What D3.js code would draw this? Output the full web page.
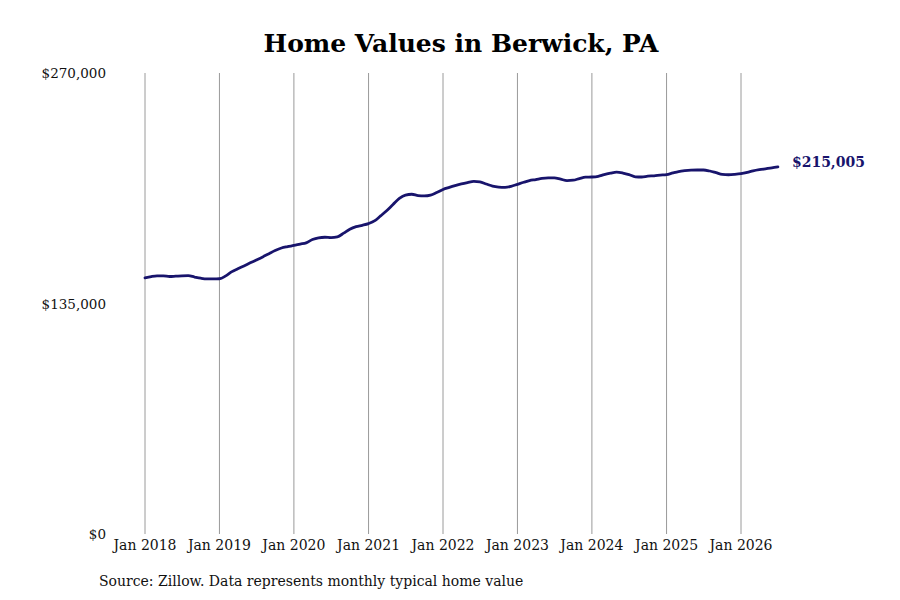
<!DOCTYPE html>
<meta charset="utf-8">
<head>
<style>
  body { margin: 0; background: #fff; }
  text { font-family: "DejaVu Serif", serif; }
</style>
</head>
<script src="https://d3js.org/d3.v7.min.js"></script>
<body>
  <div id="chart"></div>
</body>
<script>

    // monthly typical home value, Jan 2018 .. Jul 2026
    var startMonth = new Date(2018, 0, 1);
    var homeValues = [
      150000, 150800, 151200, 151200, 150800, 151000, 151200, 151300, 150500, 149800, 149400, 149400, // 2018
      149500, 151200, 153500, 155300, 157000, 158800, 160500, 162300, 164200, 166000, 167500, 168300, // 2019
      169000, 169800, 170500, 172500, 173500, 173800, 173600, 174000, 176200, 178500, 180000, 180800, // 2020
      181800, 183500, 186300, 189500, 193000, 196500, 198500, 199000, 198200, 198000, 198500, 200000, // 2021
      201800, 203000, 204000, 205000, 205800, 206500, 206200, 205000, 203800, 203200, 203000, 203600, // 2022
      204800, 206000, 207000, 207600, 208300, 208600, 208600, 207800, 207000, 207200, 208200, 209000, // 2023
      209100, 209500, 210500, 211300, 211900, 211400, 210500, 209200, 209100, 209600, 209800, 210200, // 2024
      210500, 211500, 212300, 212800, 213100, 213200, 213200, 212600, 211600, 210600, 210400, 210600, // 2025
      211000, 211800, 212700, 213400, 213900, 214400, 215005                                          // 2026
    ];
    var yTicks = [0, 135000, 270000];
    var xTickYears = [2018, 2019, 2020, 2021, 2022, 2023, 2024, 2025, 2026];
    var lastLabel = "$215,005";

    var data = homeValues.map(function(v, i) {
      return { date: new Date(startMonth.getFullYear(), startMonth.getMonth() + i, 1), value: v };
    });

    var width = 900, height = 600;
    var lineColor = "#18146c";

    var svg = d3.select("#chart")
      .append("svg")
        .attr("width", width)
        .attr("height", height);

    // scales (Jan 2018 -> Jan 2026 spans the gridlines)
    var x = d3.scaleTime()
      .domain([new Date(2018, 0, 1), new Date(2026, 0, 1)])
      .range([145, 741]);

    var y = d3.scaleLinear()
      .domain([0, 270000])
      .range([534, 73]);

    // title
    svg.append("text")
      .attr("x", 461)
      .attr("y", 52)
      .style("text-anchor", "middle")
      .style("font-size", "25px")
      .style("font-weight", "bold")
      .text("Home Values in Berwick, PA");

    // vertical gridlines at each January
    svg.append("g")
      .selectAll("line")
      .data(xTickYears)
      .enter()
      .append("line")
        .attr("x1", function(d) { return x(new Date(d, 0, 1)); })
        .attr("x2", function(d) { return x(new Date(d, 0, 1)); })
        .attr("y1", y(270000))
        .attr("y2", y(0))
        .style("stroke", "#9a9a9a")
        .style("stroke-width", 1);

    // x tick labels
    svg.append("g")
      .selectAll("text")
      .data(xTickYears)
      .enter()
      .append("text")
        .attr("x", function(d) { return x(new Date(d, 0, 1)); })
        .attr("y", 550)
        .style("text-anchor", "middle")
        .style("font-size", "14px")
        .style("fill", "#111")
        .text(function(d) { return "Jan " + d; });

    // y tick labels
    var fmt = d3.format("$,");
    svg.append("g")
      .selectAll("text")
      .data(yTicks)
      .enter()
      .append("text")
        .attr("x", 106)
        .attr("y", function(d) { return y(d) + 5; })
        .style("text-anchor", "end")
        .style("font-size", "13.5px")
        .style("fill", "#111")
        .text(function(d) { return fmt(d); });

    // the line
    var line = d3.line()
      .x(function(d) { return x(d.date); })
      .y(function(d) { return y(d.value); })
      .curve(d3.curveMonotoneX);

    svg.append("path")
      .datum(data)
      .attr("d", line)
      .style("fill", "none")
      .style("stroke", lineColor)
      .style("stroke-width", 2.8)
      .style("stroke-linejoin", "round")
      .style("stroke-linecap", "round");

    // end label
    var last = data[data.length - 1];
    svg.append("text")
      .attr("x", x(last.date) + 14)
      .attr("y", y(last.value) + 0)
      .style("font-size", "14px")
      .style("font-weight", "bold")
      .style("fill", lineColor)
      .text(lastLabel);

    // source note
    svg.append("text")
      .attr("x", 99)
      .attr("y", 586)
      .style("font-size", "14px")
      .style("fill", "#111")
      .text("Source: Zillow. Data represents monthly typical home value");

</script>
